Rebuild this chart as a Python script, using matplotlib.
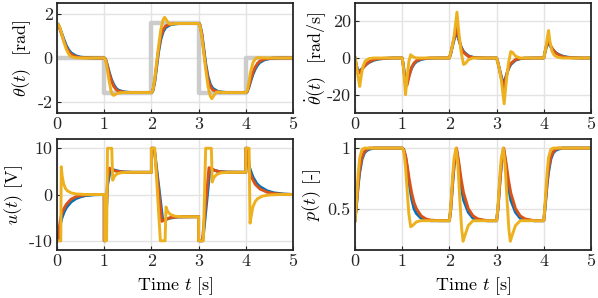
import matplotlib
matplotlib.use("Agg")
import matplotlib.pyplot as plt

plt.rcParams['font.family'] = 'serif'
plt.rcParams['font.serif'] = ['cmr10', 'DejaVu Serif']
plt.rcParams['mathtext.fontset'] = 'cm'
plt.rcParams['axes.unicode_minus'] = False
plt.rcParams['font.size'] = 13

# colours of the three controllers + reference
c_blue = '#0072BD'
c_red = '#D95319'
c_yel = '#EDB120'
c_ref = '#CCCCCC'

# ---- shared time grid for blue/red curves ----
t_g = [0, .03, .07, .1, .15, .2, .25, .3, .4, .5, .6, .8,
       1, 1.03, 1.07, 1.1, 1.15, 1.2, 1.25, 1.3, 1.4, 1.5, 1.6, 1.8,
       2, 2.03, 2.07, 2.1, 2.15, 2.2, 2.25, 2.3, 2.4, 2.5, 2.6, 2.8,
       3, 3.03, 3.07, 3.1, 3.15, 3.2, 3.25, 3.3, 3.4, 3.5, 3.6, 3.8,
       4, 4.03, 4.07, 4.1, 4.15, 4.2, 4.25, 4.3, 4.4, 4.5, 4.6, 4.8, 5]

# ---- theta [rad] ----
ref_t = [0, 1, 1, 2, 2, 3, 3, 4, 4, 5]
ref_th = [0, 0, -1.57, -1.57, 1.57, 1.57, -1.57, -1.57, 0, 0]

th_blue = [1.57, 1.52, 1.3, 1.12, 0.82, 0.55, 0.36, 0.23, 0.1, 0.04, 0.02, 0,
           0, -0.05, -0.35, -0.6, -0.95, -1.2, -1.37, -1.46, -1.53, -1.56, -1.57, -1.57,
           -1.57, -1.5, -1.1, -0.6, 0.25, 0.85, 1.2, 1.38, 1.51, 1.55, 1.57, 1.57,
           1.57, 1.5, 1.1, 0.6, -0.25, -0.85, -1.2, -1.38, -1.51, -1.55, -1.57, -1.57,
           -1.57, -1.53, -1.3, -1.08, -0.75, -0.5, -0.32, -0.2, -0.08, -0.03, -0.01, 0, 0]
th_red = [1.57, 1.5, 1.26, 1.06, 0.74, 0.47, 0.29, 0.17, 0.06, 0.02, 0.01, 0,
          0, -0.06, -0.4, -0.66, -1.02, -1.28, -1.43, -1.5, -1.55, -1.57, -1.57, -1.57,
          -1.57, -1.49, -1.05, -0.5, 0.35, 0.98, 1.3, 1.45, 1.54, 1.565, 1.57, 1.57,
          1.57, 1.49, 1.05, 0.5, -0.35, -0.98, -1.3, -1.45, -1.54, -1.565, -1.57, -1.57,
          -1.57, -1.52, -1.25, -1.0, -0.66, -0.41, -0.24, -0.14, -0.05, -0.02, 0, 0, 0]
th_yel_t = [0, .05, .1, .15, .2, .25, .3, .4, .6,
            1, 1.03, 1.06, 1.1, 1.14, 1.17, 1.2, 1.25, 1.3, 1.4,
            2, 2.03, 2.07, 2.1, 2.15, 2.2, 2.25, 2.28, 2.32, 2.37, 2.42, 2.5,
            3, 3.03, 3.07, 3.1, 3.15, 3.2, 3.25, 3.28, 3.32, 3.37, 3.42, 3.5,
            4, 4.03, 4.07, 4.1, 4.15, 4.2, 4.25, 4.3, 4.5, 5]
th_yel = [1.57, 1.45, 1.1, 0.7, 0.38, 0.17, 0.06, 0.01, 0,
          0, -0.1, -0.45, -1.0, -1.45, -1.65, -1.7, -1.64, -1.59, -1.57,
          -1.57, -1.47, -0.95, -0.4, 0.5, 1.3, 1.75, 1.85, 1.72, 1.56, 1.54, 1.57,
          1.57, 1.47, 0.95, 0.4, -0.5, -1.3, -1.75, -1.85, -1.72, -1.56, -1.54, -1.57,
          -1.57, -1.48, -1.05, -0.65, -0.22, -0.04, 0.02, 0.01, 0, 0]

# ---- theta dot [rad/s] ----
dth_blue = [0, -4, -7.5, -7, -5.8, -4.5, -3.3, -2.4, -1.2, -0.6, -0.3, 0,
            0, -5, -13, -14, -9, -5.5, -3.3, -2, -0.8, -0.3, -0.1, 0,
            0, 2.5, 7, 10, 14.5, 10, 6, 3.5, 1.2, 0.4, 0.1, 0,
            0, -2.5, -7, -10, -14.5, -10, -6, -3.5, -1.2, -0.4, -0.1, 0,
            0, 3.5, 7.5, 8, 6, 4.3, 3, 2.1, 1, 0.45, 0.2, 0, 0]
dth_red = [0, -4.5, -8.5, -7.8, -6, -4.5, -3.1, -2, -0.9, -0.4, -0.2, 0,
           0, -5.5, -15, -15, -9.5, -5, -2.8, -1.5, -0.5, -0.2, 0, 0,
           0, 2.8, 7.5, 11, 16.5, 10.5, 5.5, 3, 0.9, 0.3, 0.1, 0,
           0, -2.8, -7.5, -11, -16.5, -10.5, -5.5, -3, -0.9, -0.3, -0.1, 0,
           0, 4, 8.5, 9, 6.5, 4.3, 2.8, 1.8, 0.7, 0.3, 0.1, 0, 0]
dth_yel_t = [0, .03, .07, .1, .13, .17, .22, .3, .4,
             1, 1.03, 1.07, 1.1, 1.14, 1.18, 1.22, 1.3,
             2, 2.05, 2.1, 2.16, 2.2, 2.25, 2.3, 2.34, 2.4, 2.5,
             3, 3.05, 3.1, 3.16, 3.2, 3.25, 3.3, 3.34, 3.4, 3.5,
             4, 4.04, 4.08, 4.1, 4.13, 4.17, 4.22, 4.3, 4.4, 5]
dth_yel = [0, -4, -11, -15.5, -10, -4.5, -1.5, -0.3, 0,
           0, -6, -20, -12, -2, 1.8, 0.8, 0,
           0, 5, 12, 25, 14, 3, -3.5, -3, -1, 0,
           0, -5, -12, -25, -14, -3, 3.5, 3, 1, 0,
           0, 5, 12, 15, 9, 4, 1.5, 0.4, 0, 0]

# ---- u [V] ----
u_blue_t = [0, .03, .07, .1, .15, .2, .3, .4, .5, .6, .8,
            1, 1, 1.02, 1.07, 1.13, 1.17, 1.25, 1.3, 1.4, 1.6,
            2, 2, 2.06, 2.24, 2.3, 2.4, 2.55,
            3, 3, 3.09, 3.24, 3.32, 3.42, 3.6,
            4, 4, 4.03, 4.08, 4.15, 4.23, 4.3, 4.45, 4.6, 4.8, 5]
u_blue = [-10, -10, -6.5, -5.2, -3.8, -2.8, -1.6, -0.9, -0.5, -0.25, -0.05,
          0, -10, -10, 2, 5.3, 5.4, 5.2, 5.05, 4.9, 4.8,
          4.8, 10, 10, -5.5, -5.4, -5.1, -4.85,
          -4.8, -10, -10, 5.4, 5.3, 5.0, 4.85,
          4.8, 10, 10, 5.8, 3.8, 2.4, 1.7, 0.8, 0.35, 0.1, 0]
u_red_t = [0, .03, .07, .1, .15, .2, .3, .4, .5, .6, .8,
           1, 1, 1.02, 1.07, 1.11, 1.15, 1.2, 1.3, 1.4, 1.6,
           2, 2, 2.06, 2.22, 2.3, 2.4, 2.55,
           3, 3, 3.08, 3.22, 3.3, 3.4, 3.55,
           4, 4, 4.03, 4.07, 4.12, 4.2, 4.3, 4.45, 4.6, 4.8, 5]
u_red = [-10, -9, -5.5, -4.2, -3, -2.1, -1.0, -0.5, -0.25, -0.1, 0,
         0, -10, -10, 3, 5.7, 5.5, 5.2, 4.95, 4.85, 4.8,
         4.8, 10, 10, -5.8, -5.4, -5.0, -4.85,
         -4.8, -10, -10, 5.8, 5.4, 5.0, 4.85,
         4.8, 10, 10, 5.5, 3.8, 2.2, 1.2, 0.5, 0.2, 0.05, 0]
u_yel_t = [0, .08, .09, .11, .14, .18, .22, .3, .4, .6,
           1.01, 1.01, 1.05, 1.07, 1.16, 1.18, 1.21, 1.26, 1.35, 1.5,
           2, 2, 2.07, 2.19, 2.29, 2.31, 2.34, 2.4, 2.5, 2.65,
           3, 3, 3.1, 3.15, 3.27, 3.29, 3.32, 3.38, 3.48, 3.65,
           4, 4, 4.07, 4.09, 4.12, 4.15, 4.2, 4.25, 4.35, 4.5, 4.7, 5]
u_yel = [-10, -10, 6, 4, 2.3, 1.3, 0.8, 0.35, 0.12, 0,
         0, -10, -10, 10, 10, 3.1, 3.8, 4.4, 4.7, 4.8,
         4.8, 10, 10, -10, -10, -2.7, -3.6, -4.3, -4.7, -4.8,
         -4.8, -10, -10, 10, 10, 2.7, 3.6, 4.3, 4.7, 4.8,
         4.8, 10, 10, -6.2, -4.3, -2.7, -1.5, -0.9, -0.35, -0.1, 0, 0]

# ---- p [-] ----
p_blue = [0.4, 0.52, 0.7, 0.8, 0.91, 0.96, 0.98, 0.99, 1, 1, 1, 1,
          1, 0.99, 0.93, 0.85, 0.7, 0.58, 0.5, 0.46, 0.42, 0.405, 0.4, 0.4,
          0.4, 0.5, 0.72, 0.86, 0.99, 0.85, 0.68, 0.57, 0.47, 0.42, 0.405, 0.4,
          0.4, 0.5, 0.72, 0.86, 0.99, 0.85, 0.68, 0.57, 0.47, 0.42, 0.405, 0.4,
          0.4, 0.52, 0.7, 0.8, 0.91, 0.96, 0.98, 0.99, 1, 1, 1, 1, 1]
p_red = [0.4, 0.53, 0.72, 0.83, 0.93, 0.97, 0.99, 1, 1, 1, 1, 1,
         1, 0.99, 0.94, 0.87, 0.74, 0.63, 0.55, 0.5, 0.44, 0.415, 0.405, 0.4,
         0.4, 0.5, 0.72, 0.86, 1.0, 0.88, 0.74, 0.63, 0.5, 0.44, 0.415, 0.4,
         0.4, 0.5, 0.72, 0.86, 1.0, 0.88, 0.74, 0.63, 0.5, 0.44, 0.415, 0.4,
         0.4, 0.53, 0.72, 0.83, 0.93, 0.97, 0.99, 1, 1, 1, 1, 1, 1]
p_yel_t = [0, .03, .07, .1, .15, .2,
           1, 1.03, 1.07, 1.1, 1.14, 1.18, 1.22, 1.3, 1.4,
           2, 2.03, 2.07, 2.1, 2.14, 2.18, 2.22, 2.26, 2.29, 2.33, 2.4, 2.5,
           3, 3.03, 3.07, 3.1, 3.14, 3.18, 3.22, 3.26, 3.29, 3.33, 3.4, 3.5,
           4, 4.03, 4.07, 4.1, 4.15, 4.2, 5]
p_yel = [0.4, 0.55, 0.8, 0.92, 0.99, 1,
         1, 0.98, 0.85, 0.68, 0.46, 0.35, 0.36, 0.39, 0.4,
         0.4, 0.52, 0.78, 0.92, 1.0, 0.86, 0.58, 0.33, 0.23, 0.28, 0.36, 0.4,
         0.4, 0.52, 0.78, 0.92, 1.0, 0.86, 0.58, 0.33, 0.23, 0.28, 0.36, 0.4,
         0.4, 0.56, 0.8, 0.92, 0.99, 1, 1]

x_ticks = [0, 1, 2, 3, 4, 5]
x_labels = ['0', '1', '2', '3', '4', '5']

fig = plt.figure(figsize=(5.98, 2.98), dpi=100)
W, H = 598.0, 298.0


def make_ax(x0, y0, x1, y1):
    ax = fig.add_axes([x0 / W, 1 - y1 / H, (x1 - x0) / W, (y1 - y0) / H])
    ax.grid(True, color='#e3e3e3', linewidth=1.0)
    ax.set_axisbelow(True)
    for s in ax.spines.values():
        s.set_linewidth(1.3)
        s.set_color('#262626')
    ax.tick_params(direction='in', length=3, width=0.8, colors='#262626',
                   labelsize=13, pad=3)
    ax.set_xlim(0, 5)
    ax.set_xticks(x_ticks, x_labels)
    return ax


lw = 2.1
ax1 = make_ax(57, 3, 293, 113)
ax1.plot(ref_t, ref_th, color=c_ref, lw=3.2)
ax1.plot(t_g, th_blue, color=c_blue, lw=lw)
ax1.plot(t_g, th_red, color=c_red, lw=lw)
ax1.plot(th_yel_t, th_yel, color=c_yel, lw=lw)
ax1.set_ylim(-2.5, 2.5)
ax1.set_yticks([-2, 0, 2], ['-2', '0', '2'])
ax1.set_ylabel(r'$\theta(t)$  [rad]')
ax1.yaxis.set_label_coords(-0.10, 0.5)

ax2 = make_ax(355, 3, 591, 113)
ax2.plot(t_g, dth_blue, color=c_blue, lw=lw)
ax2.plot(t_g, dth_red, color=c_red, lw=lw)
ax2.plot(dth_yel_t, dth_yel, color=c_yel, lw=lw)
ax2.set_ylim(-30, 30)
ax2.set_yticks([-20, 0, 20], ['-20', '0', '20'])
ax2.set_ylabel(r'$\dot{\theta}(t)$  [rad/s]')
ax2.yaxis.set_label_coords(-0.115, 0.5)

ax3 = make_ax(57, 139, 293, 250)
ax3.plot(u_blue_t, u_blue, color=c_blue, lw=lw)
ax3.plot(u_red_t, u_red, color=c_red, lw=lw)
ax3.plot(u_yel_t, u_yel, color=c_yel, lw=lw)
ax3.set_ylim(-12, 12)
ax3.set_yticks([-10, 0, 10], ['-10', '0', '10'])
ax3.set_ylabel(r'$u(t)$ [V]')
ax3.yaxis.set_label_coords(-0.135, 0.5)
ax3.set_xlabel(r'Time $t$ [s]')

ax4 = make_ax(355, 139, 591, 250)
ax4.plot(t_g, p_blue, color=c_blue, lw=lw)
ax4.plot(t_g, p_red, color=c_red, lw=lw)
ax4.plot(p_yel_t, p_yel, color=c_yel, lw=lw)
ax4.set_ylim(0.158, 1.075)
ax4.set_yticks([0.5, 1], ['0.5', '1'])
ax4.set_ylabel(r'$p(t)$ [-]')
ax4.yaxis.set_label_coords(-0.136, 0.5)
ax4.set_xlabel(r'Time $t$ [s]')

fig.savefig('out.png', dpi=100)
